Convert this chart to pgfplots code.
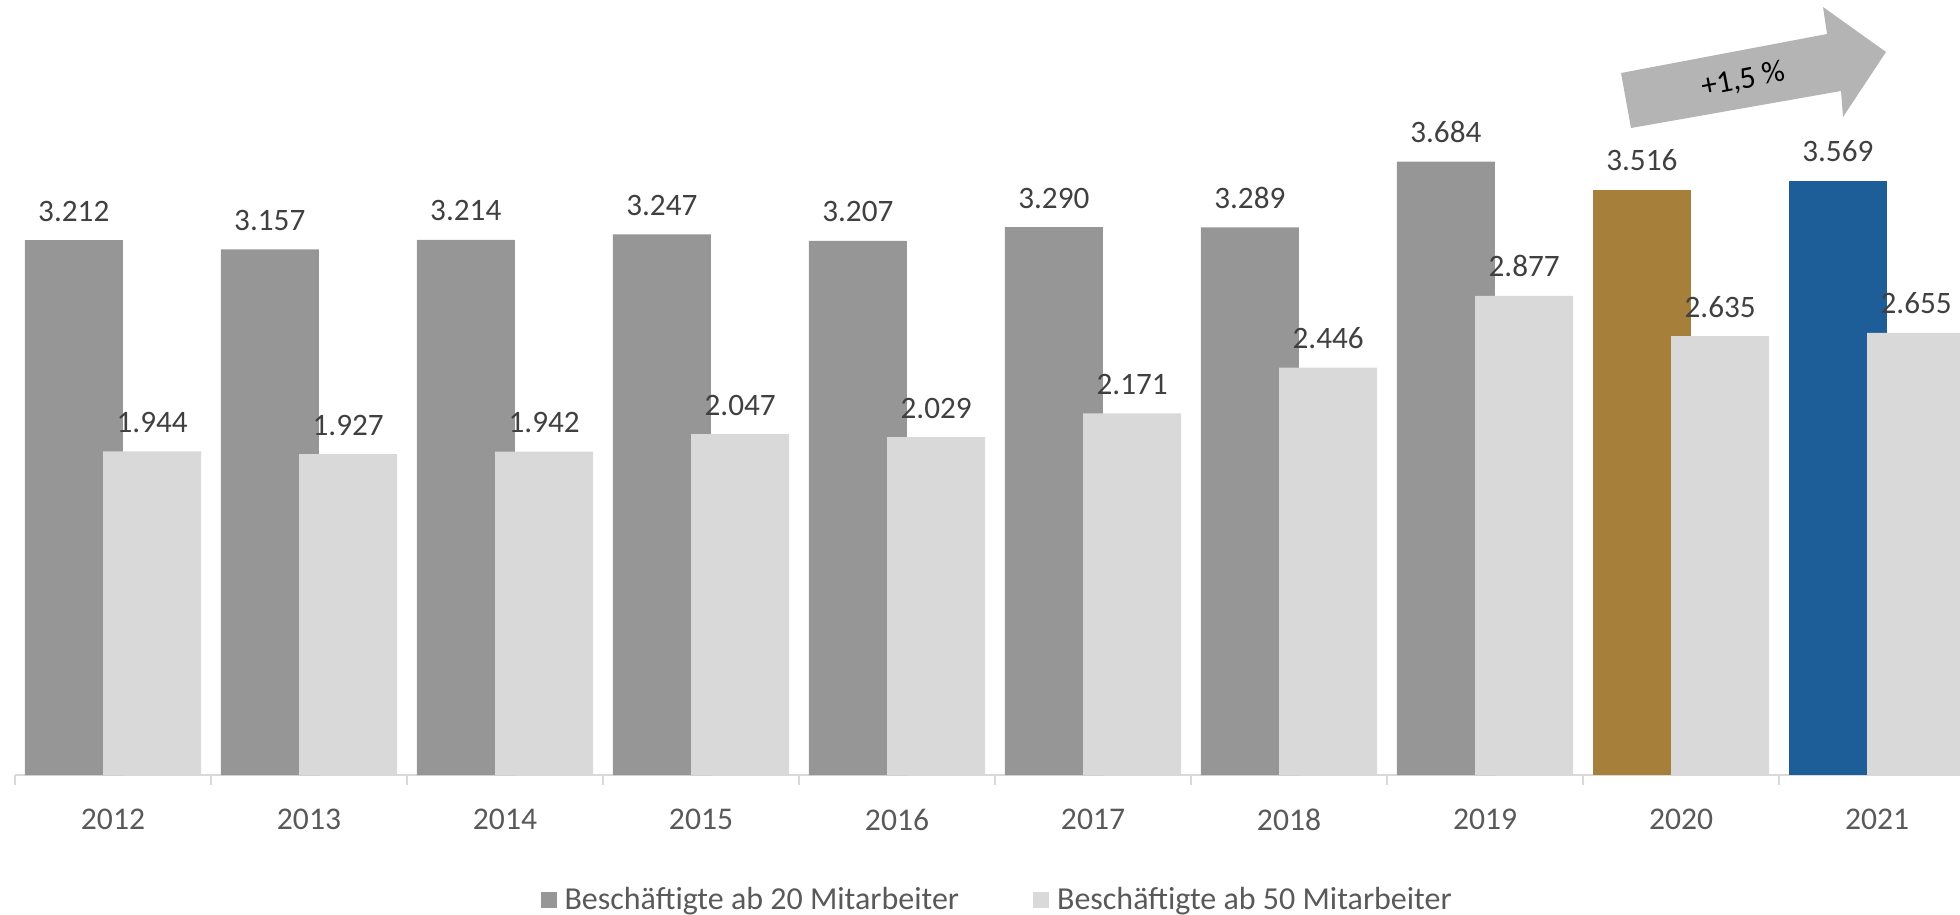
\documentclass[border=0pt]{standalone}
\usepackage{fontspec}
\setmainfont{Carlito}
\usepackage{pgfplots}
\pgfplotsset{compat=1.18}
\usetikzlibrary{calc}
\definecolor{darkbar}{HTML}{969696}
\definecolor{lightbar}{HTML}{D9D9D9}
\definecolor{goldbar}{HTML}{A6803A}
\definecolor{bluebar}{HTML}{1E5E98}
\definecolor{arrowgray}{HTML}{B4B4B4}
\definecolor{labeltext}{HTML}{404040}
\definecolor{ticktext}{HTML}{595959}

\begin{document}
\begin{tikzpicture}[x=0.25pt,y=0.25pt]
\begin{axis}[
  x=49pt, y=0.041625pt,
  xmin=-0.5, xmax=9.5, ymin=0, ymax=4200,
  ybar, bar width=0.5,
  clip=false,
  axis x line=bottom, axis y line=none,
  axis line style={-, draw=lightbar, line width=0.5pt},
  xtick={0,...,9},
  xticklabels={2012,2013,2014,2015,2016,2017,2018,2019,2020,2021},
  major tick length=0pt,
  minor xtick={-0.5,0.5,...,9.5},
  minor tick length=2.5pt,
  tick align=outside,
  tick style={draw=lightbar, line width=0.5pt},
  xticklabel style={font=\fontsize{7.9}{9}\selectfont, text=ticktext, yshift=-5pt},
  /pgf/number format/assume math mode=true,
  /pgf/number format/1000 sep={.},
  nodes near coords,
  nodes near coords style={font=\fontsize{7.8}{9}\selectfont, text=labeltext, anchor=south, inner sep=0pt, yshift=4.5pt},
  legend columns=2,
  legend style={at={(0.5026,-0.181)}, anchor=center, draw=none, fill=none,
    font=\fontsize{8}{9}\selectfont, text=ticktext,
    /tikz/every even column/.append style={column sep=16.5pt},
    inner sep=0pt},
]
\addplot[fill=darkbar, draw=none, bar shift=-0.2,
  legend image code/.code={\fill[darkbar] (0pt,-1.6pt) rectangle (4pt,2.4pt);}]
  coordinates {(0,3212) (1,3157) (2,3214) (3,3247) (4,3207) (5,3290) (6,3289) (7,3684)};
\addlegendentry{Beschäftigte ab 20 Mitarbeiter}
\addplot[fill=goldbar, draw=none, bar shift=-0.2, forget plot]
  coordinates {(8,3516)};
\addplot[fill=bluebar, draw=none, bar shift=-0.2, forget plot]
  coordinates {(9,3569)};
\addplot[fill=lightbar, draw=none, bar shift=0.2,
  legend image code/.code={\fill[lightbar] (0pt,-1.6pt) rectangle (4pt,2.4pt);}]
  coordinates {(0,1944) (1,1927) (2,1942) (3,2047) (4,2029) (5,2171) (6,2446) (7,2877) (8,2635) (9,2655)};
\addlegendentry{Beschäftigte ab 50 Mitarbeiter}
\coordinate (corner) at (axis cs:-0.5,0);
\end{axis}
\coordinate (O) at ($(corner)+(-15,-139)$);
\begin{scope}[shift={(O)}]
\fill[arrowgray] (1621,841) -- (1827,880) -- (1823,907) -- (1886,862) -- (1843,797) -- (1841,823) -- (1631,786) -- cycle;
\node[rotate=11, font=\fontsize{7.8}{9}\selectfont, text=black] at (1743,834) {+1,5 \%};
\end{scope}
\pgfresetboundingbox
\useasboundingbox (O) rectangle ($(O)+(1960,914)$);
\end{tikzpicture}
\end{document}
